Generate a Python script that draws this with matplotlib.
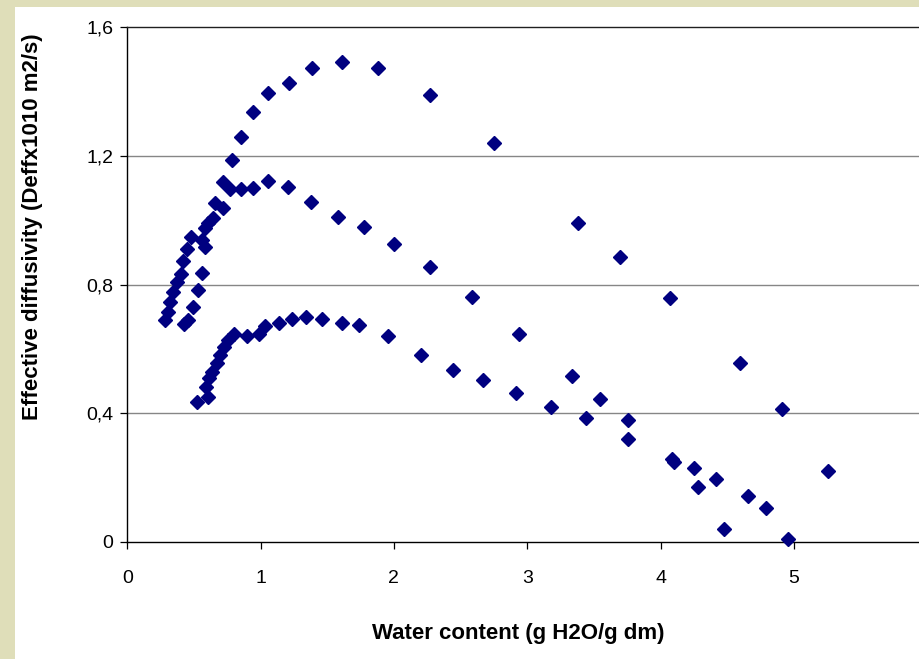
import matplotlib
matplotlib.use("Agg")
import matplotlib.pyplot as plt
from matplotlib.patches import Rectangle

plt.rcParams['font.family'] = ['Liberation Sans', 'DejaVu Sans']

# upper curve (peak ~1.5)
top_x = [0.283, 0.308, 0.320, 0.345, 0.371, 0.403, 0.420, 0.446, 0.478, 0.583,
         0.608, 0.658, 0.720, 0.783, 0.855, 0.945, 1.053, 1.215, 1.383, 1.608,
         1.878, 2.270, 2.751, 3.381, 3.696, 4.074, 4.596, 4.913, 5.254]
top_y = [0.690, 0.715, 0.746, 0.778, 0.809, 0.833, 0.874, 0.910, 0.947, 0.975,
         0.990, 1.053, 1.120, 1.187, 1.260, 1.337, 1.397, 1.428, 1.474, 1.493,
         1.474, 1.389, 1.239, 0.992, 0.886, 0.757, 0.555, 0.412, 0.221]

# middle curve (peak ~1.12)
mid_x = [0.428, 0.458, 0.495, 0.528, 0.558, 0.583, 0.558, 0.646, 0.720, 0.770,
         0.855, 0.945, 1.053, 1.203, 1.378, 1.578, 1.773, 1.999, 2.270, 2.585,
         2.942, 3.335, 3.544, 3.755, 4.085, 4.251, 4.414, 4.655, 4.794]
mid_y = [0.677, 0.690, 0.729, 0.783, 0.835, 0.916, 0.938, 1.006, 1.037, 1.097,
         1.096, 1.101, 1.122, 1.104, 1.057, 1.011, 0.979, 0.926, 0.853, 0.762,
         0.646, 0.515, 0.444, 0.379, 0.258, 0.228, 0.195, 0.143, 0.104]

# lower curve (peak ~0.7)
low_x = [0.523, 0.603, 0.588, 0.613, 0.633, 0.671, 0.695, 0.728, 0.758, 0.803,
         0.896, 0.988, 1.033, 1.140, 1.233, 1.338, 1.458, 1.608, 1.741, 1.953,
         2.206, 2.446, 2.671, 2.916, 3.182, 3.438, 3.755, 4.105, 4.280, 4.474,
         4.957]
low_y = [0.435, 0.449, 0.482, 0.508, 0.529, 0.555, 0.581, 0.607, 0.627, 0.646,
         0.640, 0.646, 0.671, 0.679, 0.692, 0.700, 0.692, 0.679, 0.673, 0.640,
         0.581, 0.534, 0.503, 0.464, 0.418, 0.386, 0.319, 0.247, 0.169, 0.040,
         0.007]

y_ticks = [0, 0.4, 0.8, 1.2, 1.6]
y_tick_labels = ['0', '0,4', '0,8', '1,2', '1,6']
x_ticks = [0, 1, 2, 3, 4, 5]

W, H = 920, 659
fig = plt.figure(figsize=(W / 100, H / 100), dpi=100, facecolor='white')
beige = '#DFDEB9'
fig.patches.append(Rectangle((0, 0), 15 / W, 1, transform=fig.transFigure,
                             facecolor=beige, edgecolor='none', zorder=-10))
fig.patches.append(Rectangle((0, 1 - 6.7 / H), 1, 6.7 / H, transform=fig.transFigure,
                             facecolor=beige, edgecolor='none', zorder=-10))

ax = fig.add_axes([127.3 / W, 1 - 541.7 / H, 6 * 133.3 / W, 514.4 / H])
ax.set_facecolor('white')
ax.set_xlim(0, 6)
ax.set_ylim(0, 1.6)

for xs, ys in [(top_x, top_y), (mid_x, mid_y), (low_x, low_y)]:
    ax.plot(xs, ys, linestyle='none', marker='D', markersize=6.8,
            color='#000080', clip_on=False, zorder=3)

ax.set_yticks(y_ticks)
ax.set_yticklabels(y_tick_labels)
ax.set_xticks(x_ticks)
ax.set_xticklabels([str(t) for t in x_ticks])
ax.tick_params(axis='y', direction='out', length=5, width=0.9, pad=5, labelsize=14)
ax.tick_params(axis='x', direction='out', length=5, width=0.9, pad=15.5, labelsize=14)

for v in y_ticks[1:-1]:
    ax.axhline(v, color='#868686', linewidth=1.0, zorder=1)

ax.spines['right'].set_visible(False)
ax.spines['top'].set_color('#202020')
ax.spines['top'].set_linewidth(1.0)
for s in ['left', 'bottom']:
    ax.spines[s].set_color('black')
    ax.spines[s].set_linewidth(1.0)

fig.text(518 / W, 1 - 634 / H, 'Water content (g H2O/g dm)', ha='center', va='center',
         fontsize=16, fontweight='bold')
fig.text(33 / W, 1 - 227 / H, 'Effective diffusivity (Deffx1010 m2/s)', ha='center',
         va='center', rotation=90, fontsize=16, fontweight='bold')

fig.savefig('out.png', dpi=100, facecolor=fig.get_facecolor())
